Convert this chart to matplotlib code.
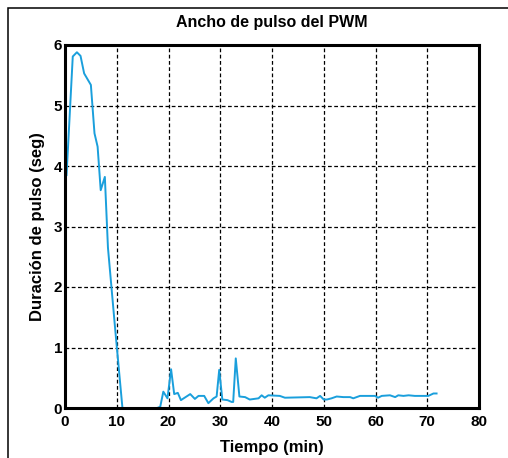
import matplotlib
matplotlib.use('Agg')
import matplotlib.pyplot as plt
from matplotlib.patches import Rectangle

# datos
tiempo = [0.3, 1.5, 2.3, 3.0, 3.7, 5.0, 5.7, 6.3, 6.9, 7.7, 8.3, 9.7, 11.1,
          14.0, 17.8, 18.4, 19.0, 19.8, 20.5, 21.1, 21.8, 22.4, 24.2, 25.1,
          25.8, 26.9, 27.7, 28.7, 29.3, 29.8, 30.4, 31.4, 32.2, 32.5, 33.0,
          33.7, 34.8, 35.7, 37.4, 38.0, 38.6, 39.3, 41.5, 42.5, 47.3, 48.6,
          49.3, 50.0, 50.6, 51.5, 52.5, 53.8, 55.1, 55.7, 57.0, 59.9, 60.5,
          61.2, 62.8, 63.8, 64.4, 65.4, 66.4, 67.6, 70.2, 71.2, 71.8]
duracion = [3.85, 5.81, 5.88, 5.82, 5.53, 5.34, 4.54, 4.32, 3.60, 3.82, 2.65, 1.3, 0.0,
            0.0, 0.0, 0.02, 0.27, 0.16, 0.64, 0.23, 0.25, 0.13, 0.23, 0.15,
            0.20, 0.20, 0.08, 0.16, 0.19, 0.63, 0.14, 0.13, 0.10, 0.10, 0.82,
            0.19, 0.18, 0.14, 0.16, 0.21, 0.17, 0.21, 0.20, 0.17, 0.18, 0.16,
            0.20, 0.14, 0.14, 0.16, 0.19, 0.18, 0.18, 0.16, 0.20, 0.20, 0.17,
            0.20, 0.21, 0.18, 0.21, 0.20, 0.21, 0.20, 0.20, 0.24, 0.24]
xticks = [0, 10, 20, 30, 40, 50, 60, 70, 80]
yticks = [0, 1, 2, 3, 4, 5, 6]

plt.rcParams['font.family'] = ['Liberation Sans', 'DejaVu Sans']
plt.rcParams['font.weight'] = 'bold'

fig = plt.figure(figsize=(5.08, 4.58), dpi=100)
ax = fig.add_axes([65 / 508, 1 - 408 / 458, 414 / 508, 363 / 458])

ax.plot(tiempo, duracion, color='#1a9fdc', lw=1.4)

ax.set_xlim(0, 80)
ax.set_ylim(0, 6)
ax.set_xticks(xticks)
ax.set_yticks(yticks)
ax.tick_params(length=0, labelsize=11, pad=5)
ax.tick_params(axis='y', pad=2)
for lab in ax.get_xticklabels() + ax.get_yticklabels():
    lab.set_fontweight('bold')
ax.grid(True, color='black', linestyle=(0, (3, 2)), lw=0.9)
for s in ax.spines.values():
    s.set_linewidth(2.2)
    s.set_color('black')

ax.set_title('Ancho de pulso del PWM', fontsize=11.5, fontweight='bold', pad=13)
ax.set_xlabel('Tiempo (min)', fontsize=12, fontweight='bold', labelpad=8)
ax.set_ylabel('Duración de pulso (seg)', fontsize=12, fontweight='bold', labelpad=6)

# marco de la figura
fig.add_artist(Rectangle((7.5 / 508, -0.05), 1.1, 1.05 - 7.5 / 458, transform=fig.transFigure,
                         fill=False, lw=1.1, edgecolor='black', clip_on=False))

fig.savefig('out.png', dpi=100)
